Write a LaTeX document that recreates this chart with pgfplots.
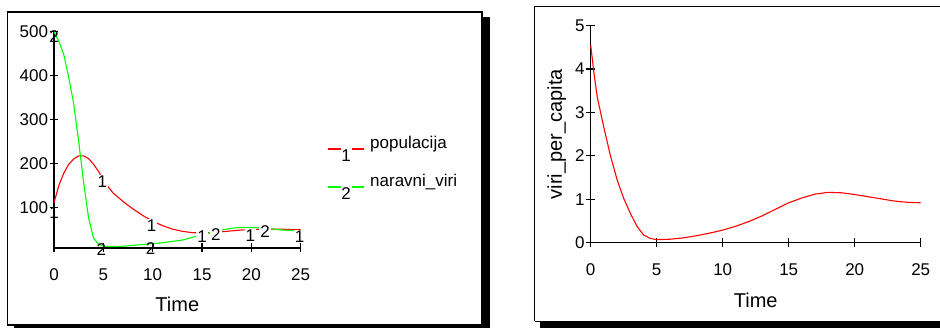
\documentclass[border=0pt]{standalone}
\usepackage{fontspec}
\setmainfont{Liberation Sans}
\usepackage{pgfplots}
\pgfplotsset{compat=1.18}
\pgfplotsset{
  stellastyle/.style={
    scale only axis,
    axis lines=left,
    axis line style={-, line width=1.2pt, black},
    tick align=center,
    major tick length=9pt,
    tick style={black, line width=1.2pt},
    every tick label/.append style={font=\fontsize{17}{19}\selectfont},
    x tick label style={yshift=-13pt},
    y tick label style={xshift=2pt},
    /pgf/number format/assume math mode=true,
    label style={font=\fontsize{20}{22}\selectfont},
    clip=false,
    xmin=0, xmax=25,
    xtick={0,5,...,25},
  }
}
\begin{document}
\begin{tikzpicture}
\useasboundingbox (0pt,0pt) rectangle (940pt,328pt);
% frames and shadows
\fill[black] (482pt,0pt) rectangle (490pt,311pt);
\fill[black] (14pt,0pt) rectangle (490pt,3pt);
\draw[line width=1.2pt] (7.5pt,3pt) rectangle (482pt,316pt);
\fill[black] (540pt,0pt) rectangle (945pt,6.7pt);
\draw[line width=1.2pt] (534.7pt,6.7pt) -- (534.7pt,321.3pt) -- (945pt,321.3pt);
\draw[line width=1.2pt] (534.7pt,6.7pt) -- (945pt,6.7pt);

% left axis
\begin{axis}[stellastyle,
  at={(54pt,80pt)}, anchor=south west,
  width=246.7pt, height=216.3pt,
  ymin=7, ymax=500,
  ytick={100,200,300,400,500},
  xlabel={Time},
  x label style={at={(axis description cs:0.5,-0.259)}, anchor=center},
]
\addplot[red, line width=1.1pt] coordinates {
(0,110) (0.5,150) (1,178) (1.5,198) (2,210) (2.5,217) (3,217) (3.5,211) (4,198) (4.5,182) (5,163) (5.5,146) (6,132) (7,113) (8,96) (9,81) (10,68) (11,58) (12,50) (13,45) (14,42) (15,41) (16,42) (17,44) (18,46) (19,48) (20,49) (21,50) (22,50) (23,50) (24,49) (25,49)};
\addplot[green, line width=1.1pt] coordinates {
(0,500) (0.5,478) (1,447) (1.5,395) (2,335) (2.5,250) (3,157) (3.5,76) (4,30) (4.5,16) (5,11) (6,10) (7,11) (8,13) (9,15) (10,17) (11,19) (12,22) (13,25) (14,31) (15,37) (16,43) (17,48) (18,52) (19,54) (20,54) (21,53) (22,51) (23,48) (24,47) (25,46)};
\begin{scope}[every node/.style={font=\fontsize{17}{19}\selectfont, inner sep=1pt}]
\node at (axis cs:0,490) {2};
\node at (axis cs:0,88) {1};
\node[fill=white] at (axis cs:4.9,158) {1};
\node at (axis cs:4.8,3) {2};
\node[fill=white] at (axis cs:9.9,57) {1};
\node at (axis cs:9.8,6.5) {2};
\node[fill=white] at (axis cs:15,33) {1};
\node[fill=white] at (axis cs:16.4,37) {2};
\node[fill=white] at (axis cs:19.9,35) {1};
\node[fill=white] at (axis cs:21.4,44) {2};
\node[fill=white] at (axis cs:24.9,33) {1};
\end{scope}
\end{axis}

% legend
\draw[draw=red, line width=2pt] (328.3pt,179pt) -- (340.7pt,179pt) (351.7pt,179pt) -- (364.3pt,179pt);
\node[font=\fontsize{17}{19}\selectfont, inner sep=0pt] at (346pt,172.2pt) {1};
\node[font=\fontsize{17}{19}\selectfont, inner sep=0pt, anchor=base west] at (370pt,179pt) {populacija};
\draw[draw=green, line width=2pt] (328.3pt,141pt) -- (340.7pt,141pt) (351.7pt,141pt) -- (364.3pt,141pt);
\node[font=\fontsize{17}{19}\selectfont, inner sep=0pt] at (346pt,134pt) {2};
\node[font=\fontsize{17}{19}\selectfont, inner sep=0pt, anchor=base west] at (370pt,141pt) {naravni\_viri};

% right axis
\begin{axis}[stellastyle,
  at={(590.7pt,85.3pt)}, anchor=south west,
  width=330pt, height=217pt,
  ymin=0, ymax=5,
  ytick={0,1,2,3,4,5},
  xlabel={Time},
  ylabel={viri\_per\_capita},
  x label style={at={(axis description cs:0.5,-0.264)}, anchor=center},
  y label style={at={(axis description cs:-0.103,0.5)}, anchor=center},
]
\addplot[red, line width=1.1pt] coordinates {
(0,4.55) (0.25,3.9) (0.5,3.35) (0.75,3.0) (1,2.65) (1.5,2.0) (2,1.45) (2.5,1.02) (3,0.68) (3.5,0.38) (4,0.18) (4.5,0.1) (5,0.07) (6,0.08) (7,0.11) (8,0.16) (9,0.22) (10,0.29) (11,0.38) (12,0.49) (13,0.62) (14,0.77) (15,0.92) (16,1.03) (17,1.12) (18,1.16) (19,1.15) (20,1.11) (21,1.06) (22,1.01) (23,0.96) (24,0.93) (25,0.92)};
\end{axis}
\end{tikzpicture}
\end{document}
